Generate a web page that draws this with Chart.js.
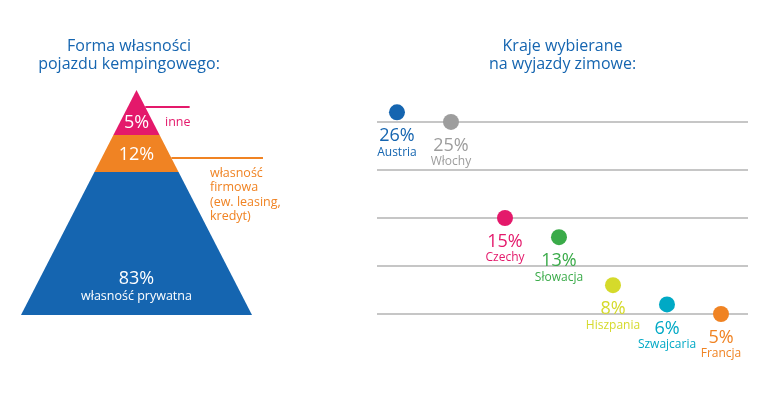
<!DOCTYPE html>
<html lang="pl">
<head>
<meta charset="utf-8">
<script src="https://cdn.jsdelivr.net/npm/chart.js@4.4.0/dist/chart.umd.min.js"></script>
<style>
  html, body { margin: 0; padding: 0; background: #fff; }
  #wrap { position: relative; width: 774px; height: 397px; }
  #left { position: absolute; left: 0; top: 0; width: 300px; height: 397px; }
  #right { position: absolute; left: 374px; top: 0; width: 380px; height: 397px; }
</style>
</head>
<body>
<div id="wrap">
  <div id="left"><canvas id="ownershipChart"></canvas></div>
  <div id="right"><canvas id="countriesChart"></canvas></div>
</div>
<script>
// --- dane: forma własności (piramida, od podstawy do wierzchołka)
const ownershipLabels = [['własność prywatna'], ['własność', 'firmowa', '(ew. leasing,', 'kredyt)'], ['inne']];
const ownershipValues = [83, 12, 5];
const ownershipBandTops = [63.6, 80, 100]; // górna krawędź pasa, % wysokości piramidy
const ownershipColors = ['#1565b0', '#f08323', '#e4196b'];

// --- dane: kraje wybierane na wyjazdy zimowe
const countryLabels = ['Austria', 'Włochy', 'Czechy', 'Słowacja', 'Hiszpania', 'Szwajcaria', 'Francja'];
const countryValues = [26, 25, 15, 13, 8, 6, 5];
const countryColors = ['#1565b0', '#9d9d9d', '#e4196b', '#3aab49', '#d5da2b', '#00a9c5', '#f08323'];
const gridValues = [5, 10, 15, 20, 25];

const FONT = '"Open Sans", "Noto Sans", sans-serif';
const TITLE_BLUE = '#1565b0';

const titleOpts = (text) => ({
  display: true,
  text: text,
  color: TITLE_BLUE,
  font: { family: FONT, size: 16, weight: 'normal', lineHeight: 1.125 },
  padding: { top: 37, bottom: 12 }
});

// --- piramida
const halfWidth = h => 1 - h / 100;
const bandDatasets = ownershipBandTops.map((top, i) => {
  const bottom = i === 0 ? 0 : ownershipBandTops[i - 1];
  const pts = [{ x: -halfWidth(bottom), y: bottom }, { x: -halfWidth(top), y: top }];
  if (halfWidth(top) > 0) pts.push({ x: halfWidth(top), y: top });
  pts.push({ x: halfWidth(bottom), y: bottom });
  return {
    data: pts,
    showLine: true,
    fill: 'shape',
    backgroundColor: ownershipColors[i],
    borderColor: 'transparent',
    borderWidth: 0,
    pointRadius: 0,
    pointHoverRadius: 0
  };
});

// linie odnośników: [poziom, koniec x, indeks pasa]
const leaders = [[92.4, 0.46, 2], [69.8, 1.095, 1]];
const leaderDatasets = leaders.map(([lvl, endX, band]) => ({
  data: [{ x: halfWidth(lvl), y: lvl }, { x: endX, y: lvl }],
  showLine: true,
  fill: false,
  borderColor: ownershipColors[band],
  borderWidth: 2,
  pointRadius: 0,
  pointHoverRadius: 0,
  clip: false
}));

const valueLevels = [16, 71.1, 85.3];
const sideLabelPos = [null, { x: 0.636, y: 63.1 }, { x: 0.247, y: 85.8 }];

const pyramidLabels = {
  id: 'pyramidLabels',
  afterDatasetsDraw(chart) {
    const { ctx, scales: { x, y } } = chart;
    ctx.save();
    ctx.textBaseline = 'middle';
    ownershipValues.forEach((v, i) => {
      const px = x.getPixelForValue(0);
      const py = y.getPixelForValue(valueLevels[i]);
      ctx.textAlign = 'center';
      ctx.fillStyle = '#fff';
      ctx.font = '18px ' + FONT;
      ctx.fillText(v + '%', px, py);
      if (!sideLabelPos[i]) {
        ctx.font = '12.5px ' + FONT;
        ctx.fillText(ownershipLabels[i].join(' '), px, py + 17);
      } else {
        const sx = x.getPixelForValue(sideLabelPos[i].x);
        const sy = y.getPixelForValue(sideLabelPos[i].y);
        ctx.textAlign = 'left';
        ctx.fillStyle = ownershipColors[i];
        ctx.font = '12.5px ' + FONT;
        ownershipLabels[i].forEach((line, k) => ctx.fillText(line, sx, sy + k * 14.5));
      }
    });
    ctx.restore();
  }
};

new Chart(document.getElementById('ownershipChart'), {
  type: 'scatter',
  data: { datasets: bandDatasets.concat(leaderDatasets) },
  options: {
    responsive: true,
    maintainAspectRatio: false,
    animation: false,
    events: [],
    layout: { autoPadding: false, padding: { left: 0, right: 42, top: 0, bottom: 82 } },
    plugins: {
      legend: { display: false },
      tooltip: { enabled: false },
      title: titleOpts(['Forma własności', 'pojazdu kempingowego:'])
    },
    scales: {
      x: { type: 'linear', display: false, min: -1.1818, max: 1.0519 },
      y: { type: 'linear', display: false, min: 0, max: 102.22 }
    }
  },
  plugins: [pyramidLabels]
});

// --- kraje
const countryLabelsPlugin = {
  id: 'countryLabels',
  afterDatasetsDraw(chart) {
    const { ctx } = chart;
    const meta = chart.getDatasetMeta(0);
    ctx.save();
    ctx.textAlign = 'center';
    ctx.textBaseline = 'middle';
    meta.data.forEach((pt, i) => {
      ctx.fillStyle = countryColors[i];
      ctx.font = '18px ' + FONT;
      ctx.fillText(countryValues[i] + '%', pt.x, pt.y + 24);
      ctx.font = '12px ' + FONT;
      ctx.fillText(countryLabels[i], pt.x, pt.y + 40);
    });
    ctx.restore();
  }
};

new Chart(document.getElementById('countriesChart'), {
  type: 'scatter',
  data: {
    datasets: [{
      data: countryValues.map((v, i) => ({ x: i, y: v })),
      pointRadius: 8,
      pointHoverRadius: 8,
      pointBackgroundColor: countryColors,
      pointBorderWidth: 0,
      clip: false
    }]
  },
  options: {
    responsive: true,
    maintainAspectRatio: false,
    animation: false,
    events: [],
    layout: { autoPadding: false, padding: { left: 3, right: 6, top: 0, bottom: 35 } },
    plugins: {
      legend: { display: false },
      tooltip: { enabled: false },
      title: titleOpts(['Kraje wybierane', 'na wyjazdy zimowe:'])
    },
    scales: {
      x: { type: 'linear', display: false, min: -0.37, max: 6.5 },
      y: {
        type: 'linear',
        min: 0,
        max: 28.85,
        afterBuildTicks: s => { s.ticks = gridValues.map(v => ({ value: v })); },
        afterFit: s => { s.width = 0; },
        grid: { color: '#c6c6c6', lineWidth: 2, drawTicks: false },
        border: { display: false },
        ticks: { display: false }
      }
    }
  },
  plugins: [countryLabelsPlugin]
});
</script>
</body>
</html>
